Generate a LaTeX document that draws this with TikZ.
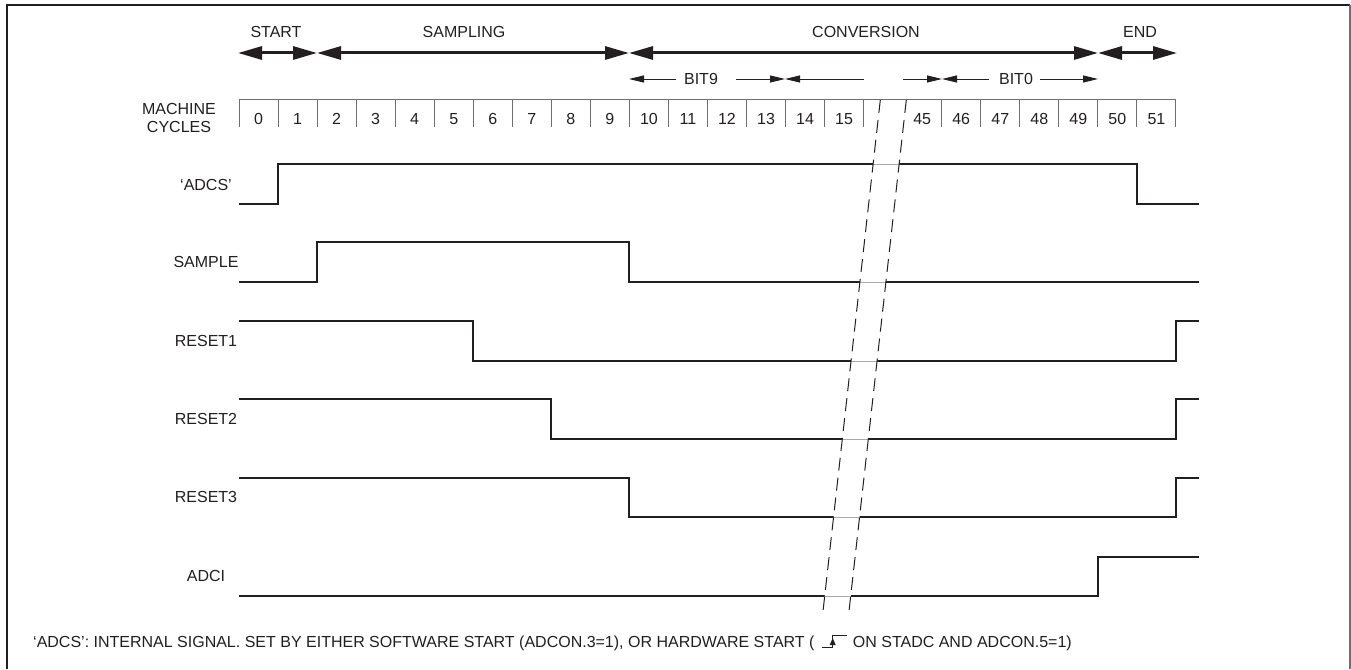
\documentclass[tikz,border=0pt]{standalone}
\usepackage{fontspec}
\setmainfont{Liberation Sans}
\usetikzlibrary{arrows.meta,calc}
\definecolor{ink}{HTML}{231F20}
\definecolor{boxgray}{HTML}{6D6E70}
\definecolor{gapgray}{HTML}{A7A9AC}
\begin{document}
\begin{tikzpicture}[x=1pt,y=-1pt,
  lbl/.style={font=\fontsize{16}{18}\selectfont, text=ink, inner sep=0pt},
  sigline/.style={line width=2.4pt, draw=ink, line join=miter},
  cycbox/.style={line width=1pt, draw=boxgray},
  phasearrow/.style={line width=3pt, draw=ink, {Triangle[length=24pt,width=13pt]}-{Triangle[length=24pt,width=13pt]}},
  bitline/.style={line width=1pt, draw=ink},
  bithead/.style={-{Triangle[length=15pt,width=7pt]}},
  breakdash/.style={line width=1pt, draw=ink, dash pattern=on 13pt off 7pt},
  gapline/.style={line width=1pt, draw=gapgray}]
\useasboundingbox (0,0) rectangle (1351,669);
\fill[white] (0,0) rectangle (1351,669);
% frame
\draw[line width=2.5pt, draw=ink] (7,669) -- (7,5) -- (1350,5);
\draw[line width=1.5pt, draw=boxgray] (1350,5) -- (1350,669);

% phase arrows
\coordinate (p0) at (238,53);
\coordinate (p1) at (317,53);
\coordinate (p2) at (629,53);
\coordinate (p3) at (1098,53);
\coordinate (p4) at (1177,53);
\draw[phasearrow] (p0) -- (p1);
\draw[phasearrow] (p1) -- (p2);
\draw[phasearrow] (p2) -- (p3);
\draw[phasearrow] (p3) -- (p4);
\node[lbl] (tStart) at (276,32) {START};
\node[lbl] (tSampling) at (464,32) {SAMPLING};
\node[lbl] (tConv) at (866,32) {CONVERSION};
\node[lbl] (tEnd) at (1140,32) {END};

% bit arrows
\node[lbl] (tBit9) at (701,79) {BIT9};
\node[lbl] (tBit0) at (1016,79) {BIT0};
\coordinate (b9a) at (629,79);
\coordinate (b9b) at (676,79);
\coordinate (b9c) at (736,79);
\coordinate (b9d) at (785,79);
\coordinate (b8a) at (864,79);
\coordinate (b1a) at (903,79);
\coordinate (b1b) at (942,79);
\coordinate (b0a) at (989,79);
\coordinate (b0b) at (1040,79);
\coordinate (b0c) at (1098,79);
\draw[bitline,bithead] (b9b) -- (b9a);
\draw[bitline,bithead] (b9c) -- (b9d);
\draw[bitline,bithead] (b8a) -- (b9d);
\draw[bitline,bithead] (b1a) -- (b1b);
\draw[bitline,bithead] (b0a) -- (b1b);
\draw[bitline,bithead] (b0b) -- (b0c);

% machine cycles
\node[lbl, align=center] (tMC) at (179,118) {MACHINE\\CYCLES};
\draw[cycbox] (239,99) -- (1176,99);
\foreach \i in {0,...,16,18,19,...,24}
  \draw[cycbox] ({239+39.04*\i},99) -- ({239+39.04*\i},127);
\foreach \n/\i in {0/0,1/1,2/2,3/3,4/4,5/5,6/6,7/7,8/8,9/9,10/10,11/11,12/12,13/13,14/14,15/15,45/17,46/18,47/19,48/20,49/21,50/22,51/23}
  \node[lbl] (c\n) at ({239+39.04*\i+19.5},119) {\n};

% signals
\node[lbl] (lADCS) at (206,185) {‘ADCS’};
\node[lbl] (lSample) at (206,262) {SAMPLE};
\node[lbl] (lR1) at (206,341) {RESET1};
\node[lbl] (lR2) at (206,419) {RESET2};
\node[lbl] (lR3) at (206,497) {RESET3};
\node[lbl] (lADCI) at (206,576) {ADCI};

\draw[sigline] (239,204) -- (278,204) -- (278,164) -- (1137,164) -- (1137,204) -- (1199,204);
\draw[sigline] (239,282) -- (317,282) -- (317,242) -- (629,242) -- (629,282) -- (1199,282);
\draw[sigline] (239,321) -- (473,321) -- (473,361) -- (1176,361) -- (1176,321) -- (1199,321);
\draw[sigline] (239,399) -- (551,399) -- (551,439) -- (1176,439) -- (1176,399) -- (1199,399);
\draw[sigline] (239,478) -- (629,478) -- (629,517) -- (1176,517) -- (1176,478) -- (1199,478);
\draw[sigline] (239,596) -- (1098,596) -- (1098,557) -- (1199,557);

% break
\coordinate (brkLt) at (880.3,100);
\coordinate (brkLb) at (822.8,613);
\coordinate (brkRt) at (906.3,100);
\coordinate (brkRb) at (848.8,613);
\fill[white] (876.4,135) -- (902.4,135) -- (849.2,610) -- (823.2,610) -- cycle;
\foreach \yy in {164,282,361,439,517,596}
  \draw[gapline] ({873-0.112*(\yy-165)},\yy) -- ({899-0.112*(\yy-165)},\yy);
\draw[breakdash] (brkLt) -- (brkLb);
\draw[breakdash] (brkRt) -- (brkRb);

% footnote
\node[lbl, anchor=base west] (note1) at (33,647) {‘ADCS’: INTERNAL SIGNAL. SET BY EITHER SOFTWARE START (ADCON.3=1), OR HARDWARE START (};
\coordinate (e0) at ($(note1.base east)+(7,0)$);
\coordinate (e1) at ($(note1.base east)+(18,0)$);
\coordinate (e2) at ($(note1.base east)+(18,-12)$);
\coordinate (e3) at ($(note1.base east)+(32,-12)$);
\draw[line width=1pt, draw=ink] (e0) -- (e1) -- (e2) -- (e3);
\fill[ink] ($(e1)+(-3,-2)$) -- ($(e1)+(3,-2)$) -- ($(e1)+(0,-9)$) -- cycle;
\node[lbl, anchor=base west] (note2) at ($(note1.base east)+(38,0)$) {ON STADC AND ADCON.5=1)};
\end{tikzpicture}
\end{document}
